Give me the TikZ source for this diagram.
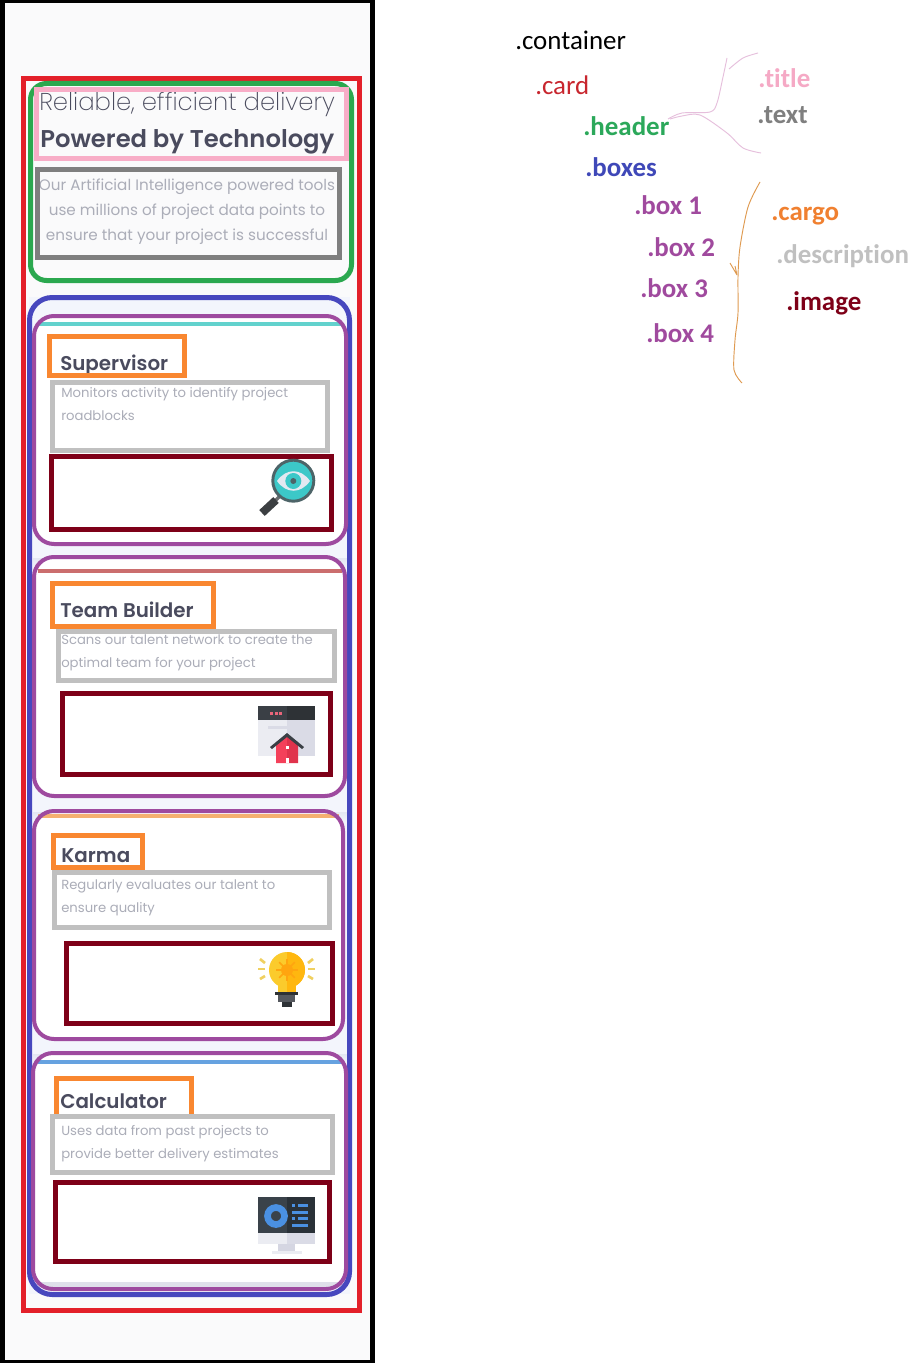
\documentclass[tikz,border=0pt]{standalone}
\usepackage{fontspec}
\setmainfont{Poppins}
\newfontfamily\poplight{Poppins ExtraLight}
\newfontfamily\popsemi{Poppins SemiBold}
\newfontfamily\notefont[Ligatures=NoCommon]{Carlito}
\definecolor{pagegray}{HTML}{FAFAFB}
\definecolor{lavender}{HTML}{F3F5FC}
\definecolor{lavshadow}{HTML}{E4E7F2}
\definecolor{inkdark}{HTML}{4A4B5E}
\definecolor{inksoft}{HTML}{ABADB8}
\definecolor{cardred}{HTML}{E3202A}
\definecolor{headgreen}{HTML}{2BA84F}
\definecolor{boxesblue}{HTML}{4747BE}
\definecolor{boxpurple}{HTML}{9E4A9F}
\definecolor{titlepink}{HTML}{F8ADC7}
\definecolor{textgray}{HTML}{7F7F7F}
\definecolor{cargoorange}{HTML}{F98730}
\definecolor{descgray}{HTML}{C0C0C0}
\definecolor{imagered}{HTML}{7E0018}
\definecolor{notered}{HTML}{C8262E}
\definecolor{notegreen}{HTML}{2BA85A}
\definecolor{noteblue}{HTML}{3F48B8}
\definecolor{notepurple}{HTML}{A04A9E}
\definecolor{notepink}{HTML}{F5A9C5}
\definecolor{noteorange}{HTML}{F08030}
\definecolor{handpink}{HTML}{E6BFDC}
\definecolor{handorange}{HTML}{DF9A50}
\definecolor{stripeteal}{HTML}{62D2CD}
\definecolor{stripered}{HTML}{CB6E6E}
\definecolor{stripepeach}{HTML}{F5B070}
\definecolor{stripeblue}{HTML}{66A2E0}
\definecolor{bottomgray}{HTML}{DFE0EA}
\definecolor{ringdark}{HTML}{4D6468}
\definecolor{lensteal}{HTML}{3CC8C8}
\definecolor{eyewhite}{HTML}{E4E9F1}
\definecolor{handlemid}{HTML}{6A6D70}
\definecolor{handledark}{HTML}{3C3F42}
\definecolor{panelleft}{HTML}{EBECF2}
\definecolor{panelright}{HTML}{DADBE6}
\definecolor{barleft}{HTML}{3A3F45}
\definecolor{barright}{HTML}{2E3236}
\definecolor{dotred}{HTML}{E8657A}
\definecolor{houseleft}{HTML}{F4405A}
\definecolor{houseright}{HTML}{E0334C}
\definecolor{raypale}{HTML}{F0D060}
\definecolor{bulbleft}{HTML}{FBCB2C}
\definecolor{bulbright}{HTML}{FFB70F}
\definecolor{bulbcore}{HTML}{FFA50F}
\definecolor{basemid}{HTML}{55585E}
\definecolor{screenleft}{HTML}{3A424A}
\definecolor{screenright}{HTML}{2A3138}
\definecolor{screenblue}{HTML}{4A90E2}
\definecolor{standgray}{HTML}{D5D6E2}
\tikzset{
  frame/.style={line width=3.75pt},
  roundframe/.style={line width=3.75pt,rounded corners=12pt},
  boxframe/.style={draw=boxpurple,line width=3pt,rounded corners=15pt},
  note/.style={anchor=base west,inner sep=0pt,font=\notefont\fontsize{20.2}{20}\selectfont},
  boldnote/.style={note,font=\notefont\bfseries\fontsize{20.2}{20}\selectfont},
  cargotext/.style={anchor=base west,inner sep=0pt,text=inkdark,font=\popsemi\fontsize{14.9}{15}\selectfont},
  desctext/.style={anchor=base west,inner sep=0pt,text=inksoft,font=\fontsize{9.9}{10}\selectfont},
  headtext/.style={anchor=base,inner sep=0pt,text=inksoft,font=\fontsize{11.4}{12}\selectfont},
  bigtext/.style={anchor=base west,inner sep=0pt,text=inkdark}
}
\begin{document}
\begin{tikzpicture}[x=0.75pt,y=-0.75pt]
\useasboundingbox (0,0) rectangle (919,1363);
\fill[white] (0,0) rectangle (919,1363);
\fill[pagegray] (0,0) rectangle (372,1363);
\fill[lavender] (29,297) rectangle (350,1294);

\foreach \boxtop/\boxbottom in {544/558,796/812,1039/1054}
  \shade[top color=lavshadow,bottom color=lavender] (33,\boxbottom) rectangle (347,\boxbottom+10);

\node[bigtext,font=\poplight\fontsize{18.25}{20}\selectfont] (titleone) at (39,110) {Reliable, efficient delivery};
\node[bigtext,font=\popsemi\fontsize{18.2}{20}\selectfont] (titletwo) at (40,147) {Powered by Technology};
\node[headtext] (headone) at (187,190) {Our Artificial Intelligence powered tools};
\node[headtext] (headtwo) at (187,215) {use millions of project data points to};
\node[headtext] (headthree) at (187,240) {ensure that your project is successful};

\fill[white,rounded corners=15pt] (34,316) rectangle (346,544);
\fill[white,rounded corners=15pt] (34,557) rectangle (345,796);
\fill[white,rounded corners=15pt] (34,811) rectangle (343,1039);
\fill[white,rounded corners=15pt] (33,1053) rectangle (346,1289);
\fill[stripeteal] (38,322) rectangle (341,326);
\fill[stripered] (38,569) rectangle (342,573);
\fill[stripepeach] (38,814) rectangle (339,817.5);
\fill[stripeblue] (38,1060) rectangle (342,1064);
\fill[bottomgray] (38,1282) rectangle (342,1287);

\node[cargotext] (cargoone) at (60,370) {Supervisor};
\node[cargotext] (cargotwo) at (60,617) {Team Builder};
\node[cargotext] (cargothree) at (61,862) {Karma};
\node[cargotext] (cargofour) at (60,1108) {Calculator};
\node[desctext] (descone) at (61,397) {Monitors activity to identify project};
\node[desctext] (desconeb) at (61,420) {roadblocks};
\node[desctext] (desctwo) at (61,644) {Scans our talent network to create the};
\node[desctext] (desctwob) at (61,667) {optimal team for your project};
\node[desctext] (descthree) at (61,889) {Regularly evaluates our talent to};
\node[desctext] (descthreeb) at (61,912) {ensure quality};
\node[desctext] (descfour) at (61,1135) {Uses data from past projects to};
\node[desctext] (descfourb) at (61,1158) {provide better delivery estimates};

\draw[frame,draw=black] (2,-1) -- (2,1362) -- (372.5,1362) -- (372.5,-1) -- cycle;
\draw[frame,draw=black] (0,1) -- (372,1);
\draw[frame,draw=cardred] (23.5,78.5) rectangle (359.5,1310.5);
\draw[roundframe,draw=headgreen] (30.5,83.5) rectangle (351.5,280.5);
\draw[frame,draw=titlepink] (36.5,90) rectangle (346.5,158.5);
\draw[frame,draw=textgray] (37.5,169.5) rectangle (339.5,257.5);
\draw[roundframe,draw=boxesblue,rounded corners=17pt] (29.5,297.5) rectangle (349.5,1294.5);
\draw[boxframe] (34,316) rectangle (346,544);
\draw[boxframe] (34,557) rectangle (345,796);
\draw[boxframe] (34,811) rectangle (343,1039);
\draw[boxframe] (33,1053) rectangle (346,1289);

\draw[frame,draw=cargoorange] (49.5,336.5) rectangle (184.5,375.5);
\draw[frame,draw=cargoorange] (52.5,583.5) rectangle (213.5,626.5);
\draw[frame,draw=cargoorange] (53.5,835.5) rectangle (142.5,867.5);
\draw[frame,draw=cargoorange] (56.5,1078.5) rectangle (191.5,1116);
\draw[frame,draw=descgray] (52.5,382.5) rectangle (327.5,450.5);
\draw[frame,draw=descgray] (58.5,631.5) rectangle (334.5,680.5);
\draw[frame,draw=descgray] (54.5,872.5) rectangle (329.5,927.5);
\draw[frame,draw=descgray] (52.5,1116.5) rectangle (332.5,1172.5);
\draw[frame,draw=imagered] (51.5,456.5) rectangle (331.5,529.5);
\draw[frame,draw=imagered] (62.5,693.5) rectangle (330.5,774.5);
\draw[frame,draw=imagered] (66.5,943.5) rectangle (332.5,1023.5);
\draw[frame,draw=imagered] (55.5,1182.5) rectangle (329.5,1261.5);

\draw[line width=2.4pt,color=handlemid] (280,496) -- (275,501);
\draw[line width=6pt,color=handledark] (276,500) -- (262,513);
\fill[lensteal] (293.3,480.7) circle [radius=20.5];
\draw[line width=2.2pt,color=ringdark] (293.3,480.7) circle [radius=20.5];
\fill[eyewhite] (277,481) .. controls (286,468) and (301,468) .. (310,481) .. controls (301,494) and (286,494) .. (277,481) -- cycle;
\fill[lensteal] (293.3,481) circle [radius=8];
\fill[ringdark] (293.3,481) circle [radius=3];

\fill[panelleft] (258,706) rectangle (287,756);
\fill[panelright] (287,706) rectangle (315,756);
\fill[barleft] (258,706) rectangle (287,720);
\fill[barright] (287,706) rectangle (315,720);
\foreach \dotx in {269.5,274.5,279}
  \fill[dotred] (\dotx,711.5) rectangle (\dotx+3,714.5);
\fill[panelright] (268,726) rectangle (304,729);
\fill[houseleft] (276,763) -- (276,745) -- (287,736) -- (287,763) -- cycle;
\fill[houseright] (287,763) -- (287,736) -- (298,745) -- (298,763) -- cycle;
\fill[barleft] (287,733) -- (304,747) -- (302,749) -- (287,737) -- (272,749) -- (270,747) -- cycle;
\fill[white] (285.5,745.5) rectangle (288.5,748.5);
\fill[white] (285.5,758) rectangle (288.5,763);

\draw[line width=2pt,color=raypale] (260,959) -- (265,963);
\draw[line width=2pt,color=raypale] (258,969) -- (265,969);
\draw[line width=2pt,color=raypale] (260,979) -- (265,976);
\draw[line width=2pt,color=raypale] (308,963) -- (313,959);
\draw[line width=2pt,color=raypale] (308,969) -- (315,969);
\draw[line width=2pt,color=raypale] (308,976) -- (313,979);
\fill[bulbleft] (287,970) circle [radius=18];
\fill[bulbleft] (278,982) rectangle (287,992);
\fill[bulbright] (287,982) rectangle (296,992);
\begin{scope}
\clip (287,950) rectangle (306,992);
\fill[bulbright] (287,970) circle [radius=18];
\end{scope}
\fill[bulbcore] (287,970) circle [radius=6];
\foreach \spokeangle in {0,45,...,315}
  \draw[line width=1.3pt,color=bulbcore] (287,970) -- ++(\spokeangle:11);
\fill[barright] (275,992) rectangle (298,995);
\fill[basemid] (278,995) rectangle (295,1002);
\fill[barright] (282,1002) rectangle (292,1007);

\fill[screenleft] (258,1197) rectangle (287,1233);
\fill[screenright] (287,1197) rectangle (315,1233);
\fill[panelleft] (258,1233) rectangle (287,1244);
\fill[panelright] (287,1233) rectangle (315,1244);
\fill[standgray] (278,1244) rectangle (295,1251);
\fill[panelleft] (272,1251) rectangle (302,1254);
\draw[line width=5pt,color=screenblue] (276,1216) circle [radius=8.5];
\fill[screenblue] (292,1204) rectangle (295,1207);
\fill[screenblue] (298,1204) rectangle (308,1207);
\fill[screenblue] (292,1211) rectangle (308,1214);
\fill[screenblue] (292,1217) rectangle (295,1220);
\fill[screenblue] (298,1217) rectangle (308,1220);
\fill[screenblue] (292,1224) rectangle (308,1227);

\node[note,text=black] (container) at (515,50) {.container};
\node[note,text=notered] (card) at (535,94) {.card};
\node[boldnote,text=notegreen] (header) at (583,135) {.header};
\node[boldnote,text=noteblue] (boxes) at (585,176) {.boxes};
\node[boldnote,text=notepurple] (boxone) at (634,214) {.box 1};
\node[boldnote,text=notepurple] (boxtwo) at (647,256) {.box 2};
\node[boldnote,text=notepurple] (boxthree) at (640,297) {.box 3};
\node[boldnote,text=notepurple] (boxfour) at (646,342) {.box 4};
\node[boldnote,text=notepink] (title) at (758,88) {.title};
\node[boldnote,text=textgray] (text) at (757,123) {.text};
\node[boldnote,text=noteorange] (cargo) at (771,220) {.cargo};
\node[boldnote,text=descgray] (description) at (776,263) {.description};
\node[boldnote,text=imagered] (image) at (786,310) {.image};

\draw[color=handpink,line width=0.7pt] plot[smooth] coordinates {(668,119) (682,113) (710,112) (717,103) (723,77) (727,58)};
\draw[color=handpink,line width=0.7pt] plot[smooth] coordinates {(729,69) (743,58) (758,53)};
\draw[color=handpink,line width=0.7pt] plot[smooth] coordinates {(670,119) (682,116) (700,115) (727,133) (743,148) (761,153)};
\draw[color=handorange,line width=0.7pt] plot[smooth] coordinates {(760,182) (748,207) (740,247) (738,277) (738,313) (735,340) (734,370) (742,383)};
\draw[color=handorange,line width=0.7pt] (730,263) -- (737,275) (735,266) -- (737,275);
\end{tikzpicture}
\end{document}
